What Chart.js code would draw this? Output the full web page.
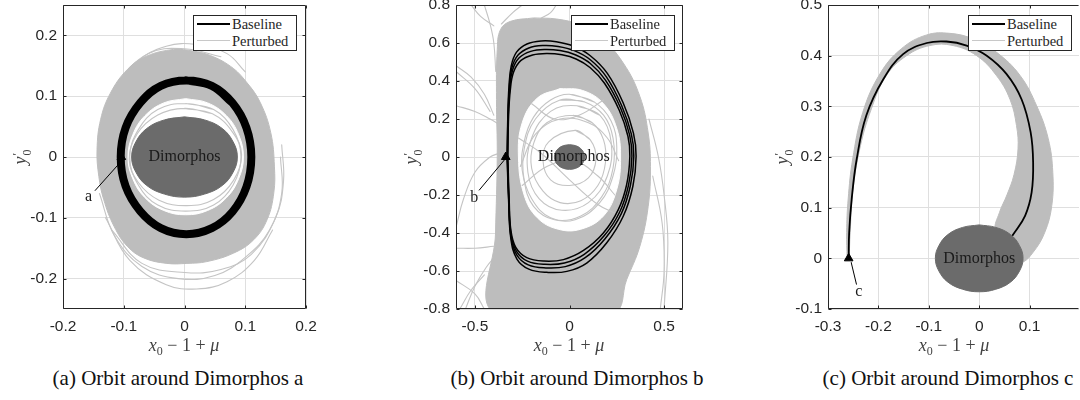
<!DOCTYPE html>
<html><head><meta charset="utf-8">
<script src="https://cdn.jsdelivr.net/npm/chart.js@4.4.1/dist/chart.umd.min.js"></script>
<style>
html,body{margin:0;padding:0;background:#fff}
body{width:1080px;height:400px;overflow:hidden;position:relative}
canvas{position:absolute;top:-20px}
.t{position:absolute;white-space:nowrap;font-family:"Liberation Serif","DejaVu Serif","Noto Serif",serif}
.cap{font-size:21px;color:#111;transform:translate(-50%,-50%);top:378px}
.xl{font-size:18px;color:#444;transform:translate(-50%,-50%);top:347px}
.yl{font-size:18px;color:#444;transform:translate(-50%,-50%) rotate(-90deg);top:157px}
.t sub{font-size:12px;font-style:normal}
.st{display:inline-block;vertical-align:middle;font-size:12px;line-height:10px;text-align:left;margin-left:1px}
.st span{display:block}
.leg{position:absolute;top:15px;width:104px;height:36px;box-sizing:border-box;border:1px solid #262626;background:#fff}
.leg .ln{position:absolute;left:3px;width:33px}
.leg .tx{position:absolute;left:38px;font-family:"Liberation Serif","DejaVu Serif","Noto Serif",serif;font-size:14.5px;color:#262626;transform:translateY(-50%);line-height:1}
</style></head><body>
<canvas id="ca" width="323" height="359" style="left:8px"></canvas>
<canvas id="cb" width="307" height="359" style="left:401px"></canvas>
<canvas id="cc" width="331" height="359" style="left:773px"></canvas>

<div class="leg" style="left:193px"><div class="ln" style="top:7px;height:2px;background:#000"></div><div class="tx" style="top:8px">Baseline</div><div class="ln" style="top:24px;height:1px;background:#c8c8c8"></div><div class="tx" style="top:25px">Perturbed</div></div>
<div class="leg" style="left:571px"><div class="ln" style="top:7px;height:2px;background:#000"></div><div class="tx" style="top:8px">Baseline</div><div class="ln" style="top:24px;height:1px;background:#c8c8c8"></div><div class="tx" style="top:25px">Perturbed</div></div>
<div class="leg" style="left:968px"><div class="ln" style="top:7px;height:2px;background:#000"></div><div class="tx" style="top:8px">Baseline</div><div class="ln" style="top:24px;height:1px;background:#c8c8c8"></div><div class="tx" style="top:25px">Perturbed</div></div>

<div class="t xl" style="left:184px"><i>x</i><sub>0</sub> − 1 + <i>μ</i></div>
<div class="t xl" style="left:569px"><i>x</i><sub>0</sub> − 1 + <i>μ</i></div>
<div class="t xl" style="left:954px"><i>x</i><sub>0</sub> − 1 + <i>μ</i></div>
<div class="t yl" style="left:21px"><i>y</i><span class="st"><span>′</span><span>0</span></span></div>
<div class="t yl" style="left:412px"><i>y</i><span class="st"><span>′</span><span>0</span></span></div>
<div class="t yl" style="left:783px"><i>y</i><span class="st"><span>′</span><span>0</span></span></div>

<div class="t cap" style="left:178px">(a) Orbit around Dimorphos a</div>
<div class="t cap" style="left:577px">(b) Orbit around Dimorphos b</div>
<div class="t cap" style="left:948px">(c) Orbit around Dimorphos c</div>

<script>
// ---------- tick values / labels ----------
const aXTicks = [-0.2,-0.1,0,0.1,0.2];
const aXLabels = ['-0.2','-0.1','0','0.1','0.2'];
const aYTicks = [-0.2,-0.1,0,0.1,0.2];
const aYLabels = ['-0.2','-0.1','0','0.1','0.2'];
const bXTicks = [-0.5,0,0.5];
const bXLabels = ['-0.5','0','0.5'];
const bYTicks = [-0.8,-0.6,-0.4,-0.2,0,0.2,0.4,0.6,0.8];
const bYLabels = ['-0.8','-0.6','-0.4','-0.2','0','0.2','0.4','0.6','0.8'];
const cXTicks = [-0.3,-0.2,-0.1,0,0.1];
const cXLabels = ['-0.3','-0.2','-0.1','0','0.1'];
const cYTicks = [-0.1,0,0.1,0.2,0.3,0.4,0.5];
const cYLabels = ['-0.1','0','0.1','0.2','0.3','0.4','0.5'];

// ---------- panel a ----------
const aDimorphos = [[0,0.066],[0.033,0.061],[0.062,0.047],[0.080,0.025],[0.087,0],[0.080,-0.025],[0.062,-0.047],[0.033,-0.061],[0,-0.066],[-0.033,-0.061],[-0.062,-0.047],[-0.080,-0.025],[-0.087,0],[-0.080,0.025],[-0.062,0.047],[-0.033,0.061],[0,0.066]];
const aBaseline = [[0.003,0.126],[0.045,0.117],[0.079,0.089],[0.102,0.048],[0.110,0],[0.102,-0.049],[0.079,-0.090],[0.045,-0.117],[0.003,-0.127],[-0.039,-0.117],[-0.073,-0.089],[-0.097,-0.048],[-0.105,0],[-0.097,0.048],[-0.073,0.089],[-0.039,0.117],[0.003,0.126],[0.045,0.117],[0.079,0.089]];
const aBand = [[0.004,0.176],[0.037,0.169],[0.076,0.149],[0.103,0.122],[0.125,0.089],[0.142,0.040],[0.148,-0.015],[0.147,-0.059],[0.136,-0.103],[0.114,-0.136],[0.081,-0.158],[0.037,-0.172],[0.004,-0.175],[-0.029,-0.175],[-0.067,-0.166],[-0.094,-0.147],[-0.116,-0.114],[-0.133,-0.070],[-0.141,-0.032],[-0.144,0.012],[-0.138,0.062],[-0.122,0.105],[-0.094,0.144],[-0.062,0.166],[-0.018,0.177],[0.004,0.176]];
const aHole = [[0.002,0.096],[0.038,0.089],[0.069,0.068],[0.089,0.037],[0.097,0],[0.089,-0.036],[0.069,-0.067],[0.038,-0.088],[0.002,-0.095],[-0.034,-0.088],[-0.065,-0.067],[-0.085,-0.036],[-0.093,0],[-0.085,0.037],[-0.065,0.068],[-0.034,0.089],[0.002,0.096]];
const aInner1 = [[0.002,0.088],[0.048,0.078],[0.080,0.045],[0.093,0.0],[0.080,-0.046],[0.048,-0.079],[0.002,-0.089],[-0.044,-0.079],[-0.076,-0.046],[-0.090,0],[-0.076,0.045],[-0.044,0.078],[0.002,0.088],[0.048,0.078]];
const aInner2 = [[0.0,0.080],[0.046,0.071],[0.079,0.041],[0.094,0.004],[0.081,-0.038],[0.048,-0.070],[0.004,-0.080],[-0.042,-0.071],[-0.076,-0.042],[-0.091,-0.004],[-0.078,0.038],[-0.044,0.069],[0.0,0.080],[0.046,0.071]];
const aStray1 = [[-0.14,-0.06],[-0.115,-0.13],[-0.07,-0.18],[-0.01,-0.2],[0.05,-0.195],[0.1,-0.165],[0.14,-0.12],[0.16,-0.06],[0.158,0.0]];
const aStray2 = [[-0.13,-0.1],[-0.09,-0.17],[-0.03,-0.21],[0.02,-0.217],[0.07,-0.205],[0.115,-0.17],[0.145,-0.12]];
const aStray3 = [[-0.12,-0.12],[-0.07,-0.175],[0.0,-0.19],[0.06,-0.185],[0.11,-0.16],[0.15,-0.1],[0.163,-0.04],[0.16,0.02]];
const aStray4 = [[-0.12,0.1],[-0.08,0.155],[-0.03,0.182],[0.02,0.185],[0.07,0.17],[0.1,0.14]];
const aStray5 = [[-0.14,0.05],[-0.11,0.12],[-0.06,0.17],[0.0,0.178],[0.06,0.165]];
const aStart = [[-0.104,0]];
const aLeader = [[-0.105,-0.008],[-0.147,-0.055]];

// ---------- panel b ----------
const bDimorphos = [[0,0.065],[0.031,0.060],[0.057,0.046],[0.074,0.025],[0.080,0],[0.074,-0.025],[0.057,-0.046],[0.031,-0.060],[0,-0.065],[-0.031,-0.060],[-0.057,-0.046],[-0.074,-0.025],[-0.080,0],[-0.074,0.025],[-0.057,0.046],[-0.031,0.060],[0,0.065]];
const bBase1 = [[-0.330,0],[-0.326,0.214],[-0.320,0.370],[-0.308,0.480],[-0.280,0.552],[-0.225,0.595],[-0.150,0.611],[-0.070,0.607],[0.020,0.584],[0.110,0.533],[0.200,0.440],[0.284,0.284],[0.338,0.126],[0.352,0.004],[0.335,-0.154],[0.284,-0.312],[0.196,-0.453],[0.091,-0.558],[-0.014,-0.602],[-0.119,-0.607],[-0.215,-0.590],[-0.278,-0.537],[-0.310,-0.430],[-0.322,-0.225],[-0.330,0]];
const bBase2 = [[-0.329,0],[-0.325,0.214],[-0.318,0.365],[-0.305,0.468],[-0.273,0.535],[-0.215,0.574],[-0.140,0.587],[-0.060,0.582],[0.025,0.560],[0.110,0.512],[0.195,0.422],[0.276,0.270],[0.327,0.120],[0.340,0.004],[0.322,-0.150],[0.274,-0.298],[0.188,-0.430],[0.083,-0.530],[-0.022,-0.577],[-0.125,-0.584],[-0.218,-0.568],[-0.279,-0.515],[-0.310,-0.415],[-0.321,-0.225],[-0.329,0]];
const bBase3 = [[-0.328,0],[-0.324,0.214],[-0.316,0.360],[-0.301,0.458],[-0.266,0.522],[-0.205,0.556],[-0.130,0.566],[-0.050,0.560],[0.030,0.538],[0.110,0.492],[0.190,0.405],[0.270,0.258],[0.318,0.115],[0.330,0.004],[0.312,-0.148],[0.266,-0.288],[0.183,-0.415],[0.078,-0.512],[-0.027,-0.558],[-0.130,-0.565],[-0.222,-0.548],[-0.281,-0.495],[-0.310,-0.400],[-0.320,-0.225],[-0.328,0]];
const bBase4 = [[-0.326,0],[-0.322,0.214],[-0.313,0.352],[-0.296,0.446],[-0.258,0.507],[-0.195,0.537],[-0.120,0.545],[-0.040,0.538],[0.035,0.516],[0.110,0.470],[0.185,0.388],[0.263,0.246],[0.309,0.109],[0.319,0.004],[0.302,-0.146],[0.258,-0.277],[0.179,-0.400],[0.074,-0.492],[-0.032,-0.540],[-0.135,-0.548],[-0.226,-0.530],[-0.284,-0.476],[-0.310,-0.385],[-0.319,-0.225],[-0.326,0]];
const bBand = [[-0.189,0.732],[-0.067,0.726],[0.056,0.696],[0.161,0.635],[0.284,0.495],[0.372,0.319],[0.416,0.126],[0.428,-0.049],[0.416,-0.260],[0.372,-0.470],[0.302,-0.646],[0.232,-0.82],[-0.40,-0.82],[-0.391,-0.400],[-0.382,0.004],[-0.386,0.302],[-0.382,0.565],[-0.365,0.670],[-0.312,0.714],[-0.189,0.732]];
const bHole = [[-0.05,0.36],[0.07,0.35],[0.18,0.28],[0.25,0.15],[0.27,0],[0.25,-0.17],[0.18,-0.31],[0.06,-0.38],[-0.06,-0.38],[-0.17,-0.32],[-0.24,-0.2],[-0.27,0],[-0.25,0.18],[-0.17,0.31],[-0.05,0.36]];
const bInner = [
  [[0.0,0.33],[0.13,0.29],[0.22,0.19],[0.25,0.05],[0.23,-0.1],[0.16,-0.24],[0.03,-0.33],[-0.1,-0.32],[-0.2,-0.22],[-0.25,-0.07],[-0.24,0.08],[-0.19,0.21],[-0.1,0.3],[0.0,0.33],[0.13,0.29]],
  [[0.02,0.22],[0.12,0.18],[0.18,0.09],[0.19,-0.03],[0.15,-0.15],[0.06,-0.23],[-0.05,-0.24],[-0.14,-0.18],[-0.2,-0.06],[-0.19,0.07],[-0.12,0.18],[0.02,0.22],[0.12,0.18]],
  [[-0.05,0.3],[0.08,0.29],[0.18,0.22],[0.23,0.1],[0.23,-0.06],[0.17,-0.21],[0.06,-0.31],[-0.08,-0.33],[-0.19,-0.26],[-0.24,-0.12],[-0.24,0.04],[-0.18,0.2],[-0.05,0.3],[0.08,0.29]],
  [[0.03,0.14],[0.11,0.09],[0.14,-0.01],[0.1,-0.11],[0.0,-0.15],[-0.1,-0.12],[-0.14,-0.02],[-0.11,0.08],[0.03,0.14],[0.11,0.09]],
  [[0.04,0.27],[0.16,0.22],[0.22,0.08],[0.2,-0.1],[0.1,-0.24],[-0.04,-0.28],[-0.16,-0.22],[-0.22,-0.08],[-0.2,0.1],[-0.1,0.24],[0.04,0.27],[0.16,0.22]],
  [[-0.27,0.1],[-0.15,0.02],[0.0,-0.12],[0.15,-0.25],[0.25,-0.3]],
  [[-0.2,0.28],[-0.08,0.2],[0.05,0.22],[0.18,0.3]],
  [[-0.26,-0.05],[-0.18,0.12],[-0.05,0.2],[0.1,0.18],[0.2,0.1],[0.26,-0.02]],
  [[-0.25,-0.15],[-0.12,-0.05],[0.02,-0.02],[0.15,-0.1],[0.24,-0.2]]
];
const bStray = [
  [[-0.6,0.48],[-0.52,0.42],[-0.45,0.33],[-0.40,0.22]],
  [[-0.6,0.45],[-0.5,0.36],[-0.42,0.24]],
  [[-0.6,-0.37],[-0.56,-0.22],[-0.5,-0.08],[-0.42,0.0],[-0.37,0.02]],
  [[-0.6,-0.48],[-0.5,-0.48],[-0.40,-0.47]],
  [[-0.55,-0.8],[-0.5,-0.68],[-0.44,-0.58],[-0.39,-0.52]],
  [[-0.58,-0.8],[-0.52,-0.7],[-0.45,-0.62]],
  [[-0.6,0.27],[-0.5,0.24],[-0.42,0.2],[-0.37,0.17]],
  [[-0.45,0.8],[-0.42,0.7],[-0.40,0.6],[-0.39,0.45]],
  [[-0.52,0.8],[-0.47,0.74],[-0.40,0.69]],
  [[-0.25,0.8],[-0.3,0.76],[-0.36,0.7]],
  [[0.42,0.2],[0.47,0.0],[0.5,-0.2],[0.52,-0.45],[0.5,-0.8]],
  [[0.44,-0.1],[0.49,-0.35],[0.5,-0.6],[0.48,-0.8]],
  [[-0.6,-0.65],[-0.5,-0.72],[-0.45,-0.8]],
  [[-0.07,0.8],[-0.1,0.76],[-0.15,0.73]]
];
const bStart = [[-0.337,0]];
const bLeader = [[-0.337,-0.007],[-0.477,-0.174]];

// ---------- panel c ----------
const cDimorphos = aDimorphos;
const cBaseline = [[-0.259,0],[-0.258,0.051],[-0.253,0.117],[-0.243,0.196],[-0.224,0.282],[-0.190,0.354],[-0.151,0.403],[-0.104,0.425],[-0.065,0.428],[-0.025,0.420],[0.015,0.400],[0.054,0.364],[0.084,0.314],[0.102,0.249],[0.107,0.189],[0.104,0.130],[0.091,0.084],[0.066,0.045]];
const cBand = [[-0.262,0.0],[-0.263,0.051],[-0.260,0.117],[-0.251,0.196],[-0.231,0.288],[-0.197,0.364],[-0.154,0.414],[-0.104,0.441],[-0.058,0.444],[-0.012,0.433],[0.034,0.407],[0.081,0.361],[0.114,0.301],[0.137,0.236],[0.146,0.170],[0.144,0.104],[0.130,0.051],[0.107,0.012],[0.084,-0.008],[0.060,0.0],[0.032,0.055],[0.040,0.090],[0.055,0.125],[0.069,0.165],[0.077,0.216],[0.074,0.262],[0.061,0.314],[0.034,0.361],[-0.005,0.400],[-0.052,0.420],[-0.098,0.420],[-0.144,0.400],[-0.184,0.361],[-0.214,0.295],[-0.237,0.216],[-0.251,0.130],[-0.256,0.051],[-0.258,0.0]];
const cStart = [[-0.259,0]];
const cLeader = [[-0.254,-0.008],[-0.2436,-0.051]];

// ---------- styling ----------
const BAND = '#bdbdbd', STRAY = '#c4c4c4', BODY = '#6b6b6b';
const SERIF = '"Liberation Serif", "DejaVu Serif", "Noto Serif", serif';
const P = a => a.map(p => ({x:p[0], y:p[1]}));
function shape(pts, color){ return {data:P(pts), shapeColor:color, borderColor:color, borderWidth:1, pointRadius:0, tension:0.4, fill:false}; }
function curve(pts, color, w, t){ return {data:P(pts), borderColor:color, borderWidth:w, pointRadius:0, tension:(t===undefined?0.4:t), fill:false, borderCapStyle:'round', borderJoinStyle:'round'}; }
function marker(pts){ return {data:P(pts), showLine:false, pointStyle:'triangle', pointRadius:5, backgroundColor:'#000', borderColor:'#000', borderWidth:1}; }

const shapeFill = {
  id:'shapeFill',
  beforeDatasetDraw(chart, args){
    const ds = chart.data.datasets[args.index];
    if (!ds.shapeColor) return;
    const line = args.meta.dataset; const {ctx, chartArea:a} = chart;
    line.updateControlPoints(a, 'x');
    ctx.save();
    ctx.beginPath(); ctx.rect(a.left, a.top, a.width, a.height); ctx.clip();
    ctx.beginPath(); line.path(ctx); ctx.closePath();
    ctx.fillStyle = ds.shapeColor; ctx.fill();
    ctx.restore();
  }
};
function notes(items){ return {id:'notes', afterDatasetsDraw(chart){
  const {ctx, scales:{x,y}} = chart;
  items.forEach(n => { ctx.save(); ctx.font = n.font; ctx.fillStyle = '#1a1a1a'; ctx.textAlign='center'; ctx.textBaseline='middle';
    ctx.fillText(n.text, x.getPixelForValue(n.x), y.getPixelForValue(n.y)); ctx.restore(); });
}}; }
function frame(noRight){ return {id:'frame', afterDatasetsDraw(chart){
  const {ctx, chartArea:a, scales:{x,y}} = chart;
  const L = Math.round(a.left)+0.5, R = Math.round(a.right)-0.5, T = Math.round(a.top)+0.5, B = Math.round(a.bottom)-0.5;
  ctx.save(); ctx.strokeStyle = '#262626'; ctx.lineWidth = 1; ctx.beginPath();
  ctx.moveTo(L,T); ctx.lineTo(L,B); ctx.lineTo(R,B); ctx.moveTo(L,T); ctx.lineTo(R,T);
  if (!noRight) { ctx.moveTo(R,T); ctx.lineTo(R,B); }
  x.ticks.forEach(t => { const px = Math.round(x.getPixelForValue(t.value))+0.5; ctx.moveTo(px,B); ctx.lineTo(px,B-3); ctx.moveTo(px,T); ctx.lineTo(px,T+3); });
  y.ticks.forEach(t => { const py = Math.round(y.getPixelForValue(t.value))+0.5; ctx.moveTo(L,py); ctx.lineTo(L+3,py); if(!noRight){ctx.moveTo(R,py); ctx.lineTo(R-3,py);} });
  ctx.stroke(); ctx.restore();
}}; }

function build(id, layers, xr, yr, xt, xl, yt, yl, noteItems, noRight){
  layers.forEach((d,i) => d.order = layers.length - i);
  const tickFont = {family:'"Liberation Sans", Arial, sans-serif', size:15.5};
  new Chart(document.getElementById(id), {
    type:'line',
    data:{datasets:layers},
    options:{
      responsive:false, animation:false, events:[],
      layout:{padding:{top:25, right:25, left:0, bottom:0}},
      elements:{line:{capBezierPoints:false}},
      plugins:{legend:{display:false}, tooltip:{enabled:false}},
      scales:{
        x:{type:'linear', min:xr[0], max:xr[1],
           afterBuildTicks:s => { s.ticks = xt.map(v => ({value:v})); },
           afterFit:s => { s.height = 30; },
           ticks:{callback:(v,i) => xl[i], autoSkip:false, maxRotation:0, padding:8, color:'#262626', font:tickFont},
           grid:{color:'#dfdfdf', drawTicks:false}, border:{display:false}},
        y:{type:'linear', min:yr[0], max:yr[1],
           afterBuildTicks:s => { s.ticks = yt.map(v => ({value:v})); },
           afterFit:s => { s.width = 55; },
           ticks:{callback:(v,i) => yl[i], autoSkip:false, padding:6, color:'#262626', font:tickFont},
           grid:{color:'#dfdfdf', drawTicks:false}, border:{display:false}}
      }
    },
    plugins:[shapeFill, notes(noteItems), frame(noRight)]
  });
}

const NOTE_FONT = '16px ' + SERIF;

build('ca', [
  curve(aStray1, STRAY, 1.1), curve(aStray2, STRAY, 1.1), curve(aStray3, STRAY, 1.1), curve(aStray4, STRAY, 1.1), curve(aStray5, STRAY, 1.1),
  shape(aBand, BAND), shape(aHole, '#ffffff'),
  curve(aInner1, STRAY, 1.1), curve(aInner2, STRAY, 1.1),
  curve(aBaseline, '#000', 8),
  shape(aDimorphos, BODY),
  curve(aLeader, '#000', 1, 0), marker(aStart)
], [-0.2,0.2], [-0.25,0.25], aXTicks, aXLabels, aYTicks, aYLabels,
  [{text:'Dimorphos', x:0, y:0, font:NOTE_FONT}, {text:'a', x:-0.158, y:-0.066, font:NOTE_FONT}], false);

build('cb', [
  ...bStray.map(s => curve(s, STRAY, 1.1)),
  shape(bBand, BAND), shape(bHole, '#ffffff'),
  ...bInner.map(s => curve(s, STRAY, 1.1)),
  curve(bBase1, '#000', 1.5), curve(bBase2, '#000', 1.5), curve(bBase3, '#000', 1.5), curve(bBase4, '#000', 1.5),
  shape(bDimorphos, BODY),
  curve(bLeader, '#000', 1, 0), marker(bStart)
], [-0.6,0.6], [-0.8,0.8], bXTicks, bXLabels, bYTicks, bYLabels,
  [{text:'Dimorphos', x:0.023, y:0, font:NOTE_FONT}, {text:'b', x:-0.504, y:-0.217, font:NOTE_FONT}], false);

build('cc', [
  shape(cBand, BAND),
  curve(cBaseline, '#000', 1.8),
  shape(cDimorphos, BODY),
  curve(cLeader, '#000', 1, 0), marker(cStart)
], [-0.3,0.198], [-0.1,0.5], cXTicks, cXLabels, cYTicks, cYLabels,
  [{text:'Dimorphos', x:0, y:0, font:NOTE_FONT}, {text:'c', x:-0.239, y:-0.067, font:NOTE_FONT}], true);
</script>
</body></html>
